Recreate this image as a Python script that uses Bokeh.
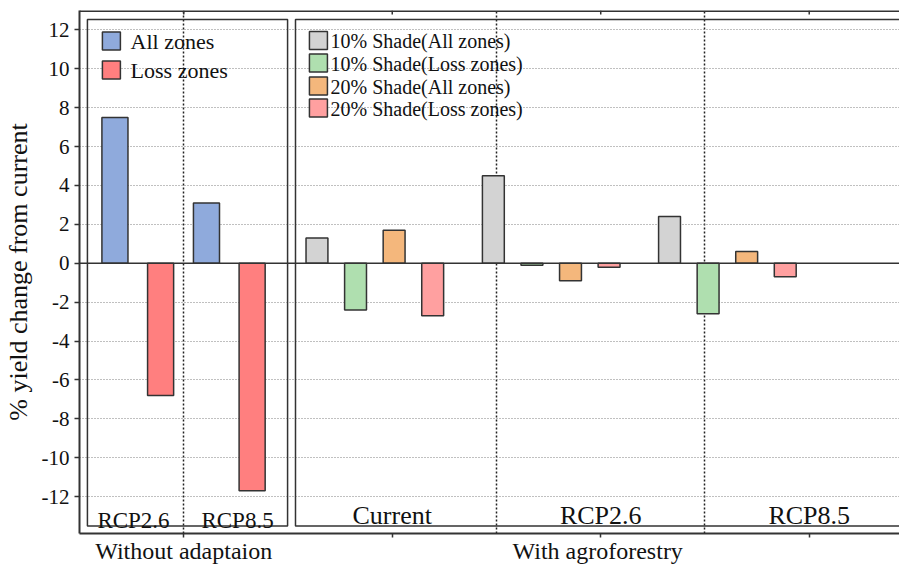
from bokeh.plotting import figure
from bokeh.models import FixedTicker, Span
from bokeh.embed import file_html
from bokeh.resources import INLINE
from bokeh.core.properties import value

# ---------------- data ----------------
left_scenarios = ["RCP2.6", "RCP8.5"]
left_series = ["All zones", "Loss zones"]
all_zones = [7.5, 3.1]
loss_zones = [-6.8, -11.7]

right_scenarios = ["Current", "RCP2.6", "RCP8.5"]
right_series = ["10% Shade(All zones)", "10% Shade(Loss zones)",
                "20% Shade(All zones)", "20% Shade(Loss zones)"]
shade10_all = [1.3, 4.5, 2.4]
shade10_loss = [-2.4, -0.1, -2.6]
shade20_all = [1.7, -0.9, 0.6]
shade20_loss = [-2.7, -0.2, -0.7]

group_labels = ["Without adaptaion", "", "With  agroforestry", ""]
y_ticks = [-12, -10, -8, -6, -4, -2, 0, 2, 4, 6, 8, 10, 12]
y_tick_labels = ["-12", "-10", "-8", "-6", "-4", "-2", "0", "2", "4", "6", "8", "10", "12"]
y_label = "% yield change from current"

# ---------------- styles / layout ----------------
FONT = "Liberation Serif"
DARK = "#333333"
TXT = "#111111"
left_colors = ["#8FAADC", "#FF7F7F"]
right_colors = ["#D3D3D3", "#AFDFAF", "#F4B77C", "#FFA0A0"]

X0, X1 = 0.0, 3.933
Y0, Y1 = -13.9, 13.0
FRAME_TOP = 10.0          # pixel row of frame top
PX_PER_Y = 19.458


def yp(row):
    """pixel row -> data y"""
    return Y1 - (row - FRAME_TOP) / PX_PER_Y


p = figure(width=899, height=566, x_range=(X0, X1), y_range=(Y0, Y1),
           output_backend="svg", toolbar_location=None,
           min_border_left=79, min_border_right=0, min_border_top=10,
           min_border_bottom=33)
p.outline_line_color = None
p.background_fill_color = "white"

# grids
p.ygrid.ticker = FixedTicker(ticks=y_ticks)
p.ygrid.grid_line_color = "#808080"
p.ygrid.grid_line_dash = "1 2"
p.ygrid.grid_line_width = 1
p.xgrid.ticker = FixedTicker(ticks=[0.5, 2.0, 3.0])
p.xgrid.grid_line_color = "#222222"
p.xgrid.grid_line_dash = "2 2"
p.xgrid.grid_line_width = 1.5

# y axis
p.yaxis.ticker = FixedTicker(ticks=y_ticks)
p.yaxis.major_label_overrides = dict(zip(y_ticks, y_tick_labels))
p.yaxis.axis_label = y_label
p.yaxis.axis_label_text_font = FONT
p.yaxis.axis_label_text_font_size = "26px"
p.yaxis.axis_label_text_font_style = "normal"
p.yaxis.axis_label_text_color = TXT
p.yaxis.axis_label_standoff = 6
p.yaxis.major_label_text_font = FONT
p.yaxis.major_label_text_font_size = "21px"
p.yaxis.major_label_text_color = TXT
p.yaxis.major_label_standoff = 5
p.yaxis.major_tick_out = 5
p.yaxis.major_tick_in = 0
p.yaxis.minor_tick_line_color = None
p.yaxis.axis_line_width = 2
p.yaxis.axis_line_color = DARK
p.yaxis.major_tick_line_color = DARK
p.yaxis.major_tick_line_width = 1.5

# x axis: ticks + group labels
x_ticks = [0.5, 1.5, 2.5, 3.5]
p.xaxis.ticker = FixedTicker(ticks=x_ticks)
p.xaxis.major_label_overrides = dict(zip(x_ticks, group_labels))
p.xaxis.major_label_text_font = FONT
p.xaxis.major_label_text_font_size = "24px"
p.xaxis.major_label_text_color = TXT
p.xaxis.major_label_standoff = 0
p.xaxis.major_tick_out = 4
p.xaxis.major_tick_in = 0
p.xaxis.minor_tick_line_color = None
p.xaxis.axis_line_width = 2
p.xaxis.axis_line_color = DARK
p.xaxis.major_tick_line_color = DARK
p.xaxis.major_tick_line_width = 1.5

# top border line + inward ticks
p.add_layout(Span(location=Y1, dimension="width", line_color=DARK, line_width=3))
p.segment(x0=x_ticks, x1=x_ticks, y0=[Y1] * 4, y1=[Y1 - 4 / PX_PER_Y] * 4,
          line_color=DARK, line_width=1.5)

# panel boxes
p.quad(left=[0.038, 1.036], right=[0.998, 4.2], top=[yp(19)] * 2,
       bottom=[yp(526)] * 2, fill_color=None, line_color=DARK, line_width=1.5)

# zero line
p.add_layout(Span(location=0, dimension="width", line_color=DARK, line_width=1.5))

# ---- left panel bars ----
left_starts = [0.17, 0.609]
left_offsets = [0.0, 0.219]
for vals, off, col in zip([all_zones, loss_zones], left_offsets, left_colors):
    xs = [s + off for s in left_starts]
    p.vbar(x=xs, top=vals, bottom=0, width=0.125, fill_color=col,
           line_color=DARK, line_width=1.5)

# ---- right panel bars ----
right_starts = [1.139, 1.985, 2.830]
right_offsets = [0.0, 0.185, 0.37, 0.555]
for vals, off, col in zip([shade10_all, shade10_loss, shade20_all, shade20_loss],
                          right_offsets, right_colors):
    xs = [s + off for s in right_starts]
    p.vbar(x=xs, top=vals, bottom=0, width=0.105, fill_color=col,
           line_color=DARK, line_width=1.5)

# ---- legends (manual) ----
p.rect(x=[0.153] * 2, y=[yp(40.5), yp(69.5)], width=18, height=18,
       width_units="screen", height_units="screen",
       fill_color=left_colors, line_color=DARK, line_width=1.5)
p.text(x=[0.245] * 2, y=[yp(41), yp(70)], text=left_series,
       text_font=value(FONT), text_font_size="22px", text_baseline="middle",
       text_color=TXT)

ry = [yp(40), yp(62.5), yp(85.5), yp(107.5)]
p.rect(x=[1.146] * 4, y=ry, width=18, height=18,
       width_units="screen", height_units="screen",
       fill_color=right_colors, line_color=DARK, line_width=1.5)
p.text(x=[1.204] * 4, y=[v - 0.03 for v in ry], text=right_series,
       text_font=value(FONT), text_font_size="20px", text_baseline="middle",
       text_color=TXT)

# ---- scenario labels inside panels ----
p.text(x=[0.259, 0.758], y=[yp(520)] * 2, text=left_scenarios,
       text_font=value(FONT), text_font_size="23px", text_align="center",
       text_baseline="alphabetic", text_color=TXT)
p.text(x=[1.5, 2.5, 3.5], y=[yp(515)] * 3, text=right_scenarios,
       text_font=value(FONT), text_font_size="26px", text_align="center",
       text_baseline="alphabetic", text_color=TXT)

open("out.html", "w").write(file_html(p, INLINE))
